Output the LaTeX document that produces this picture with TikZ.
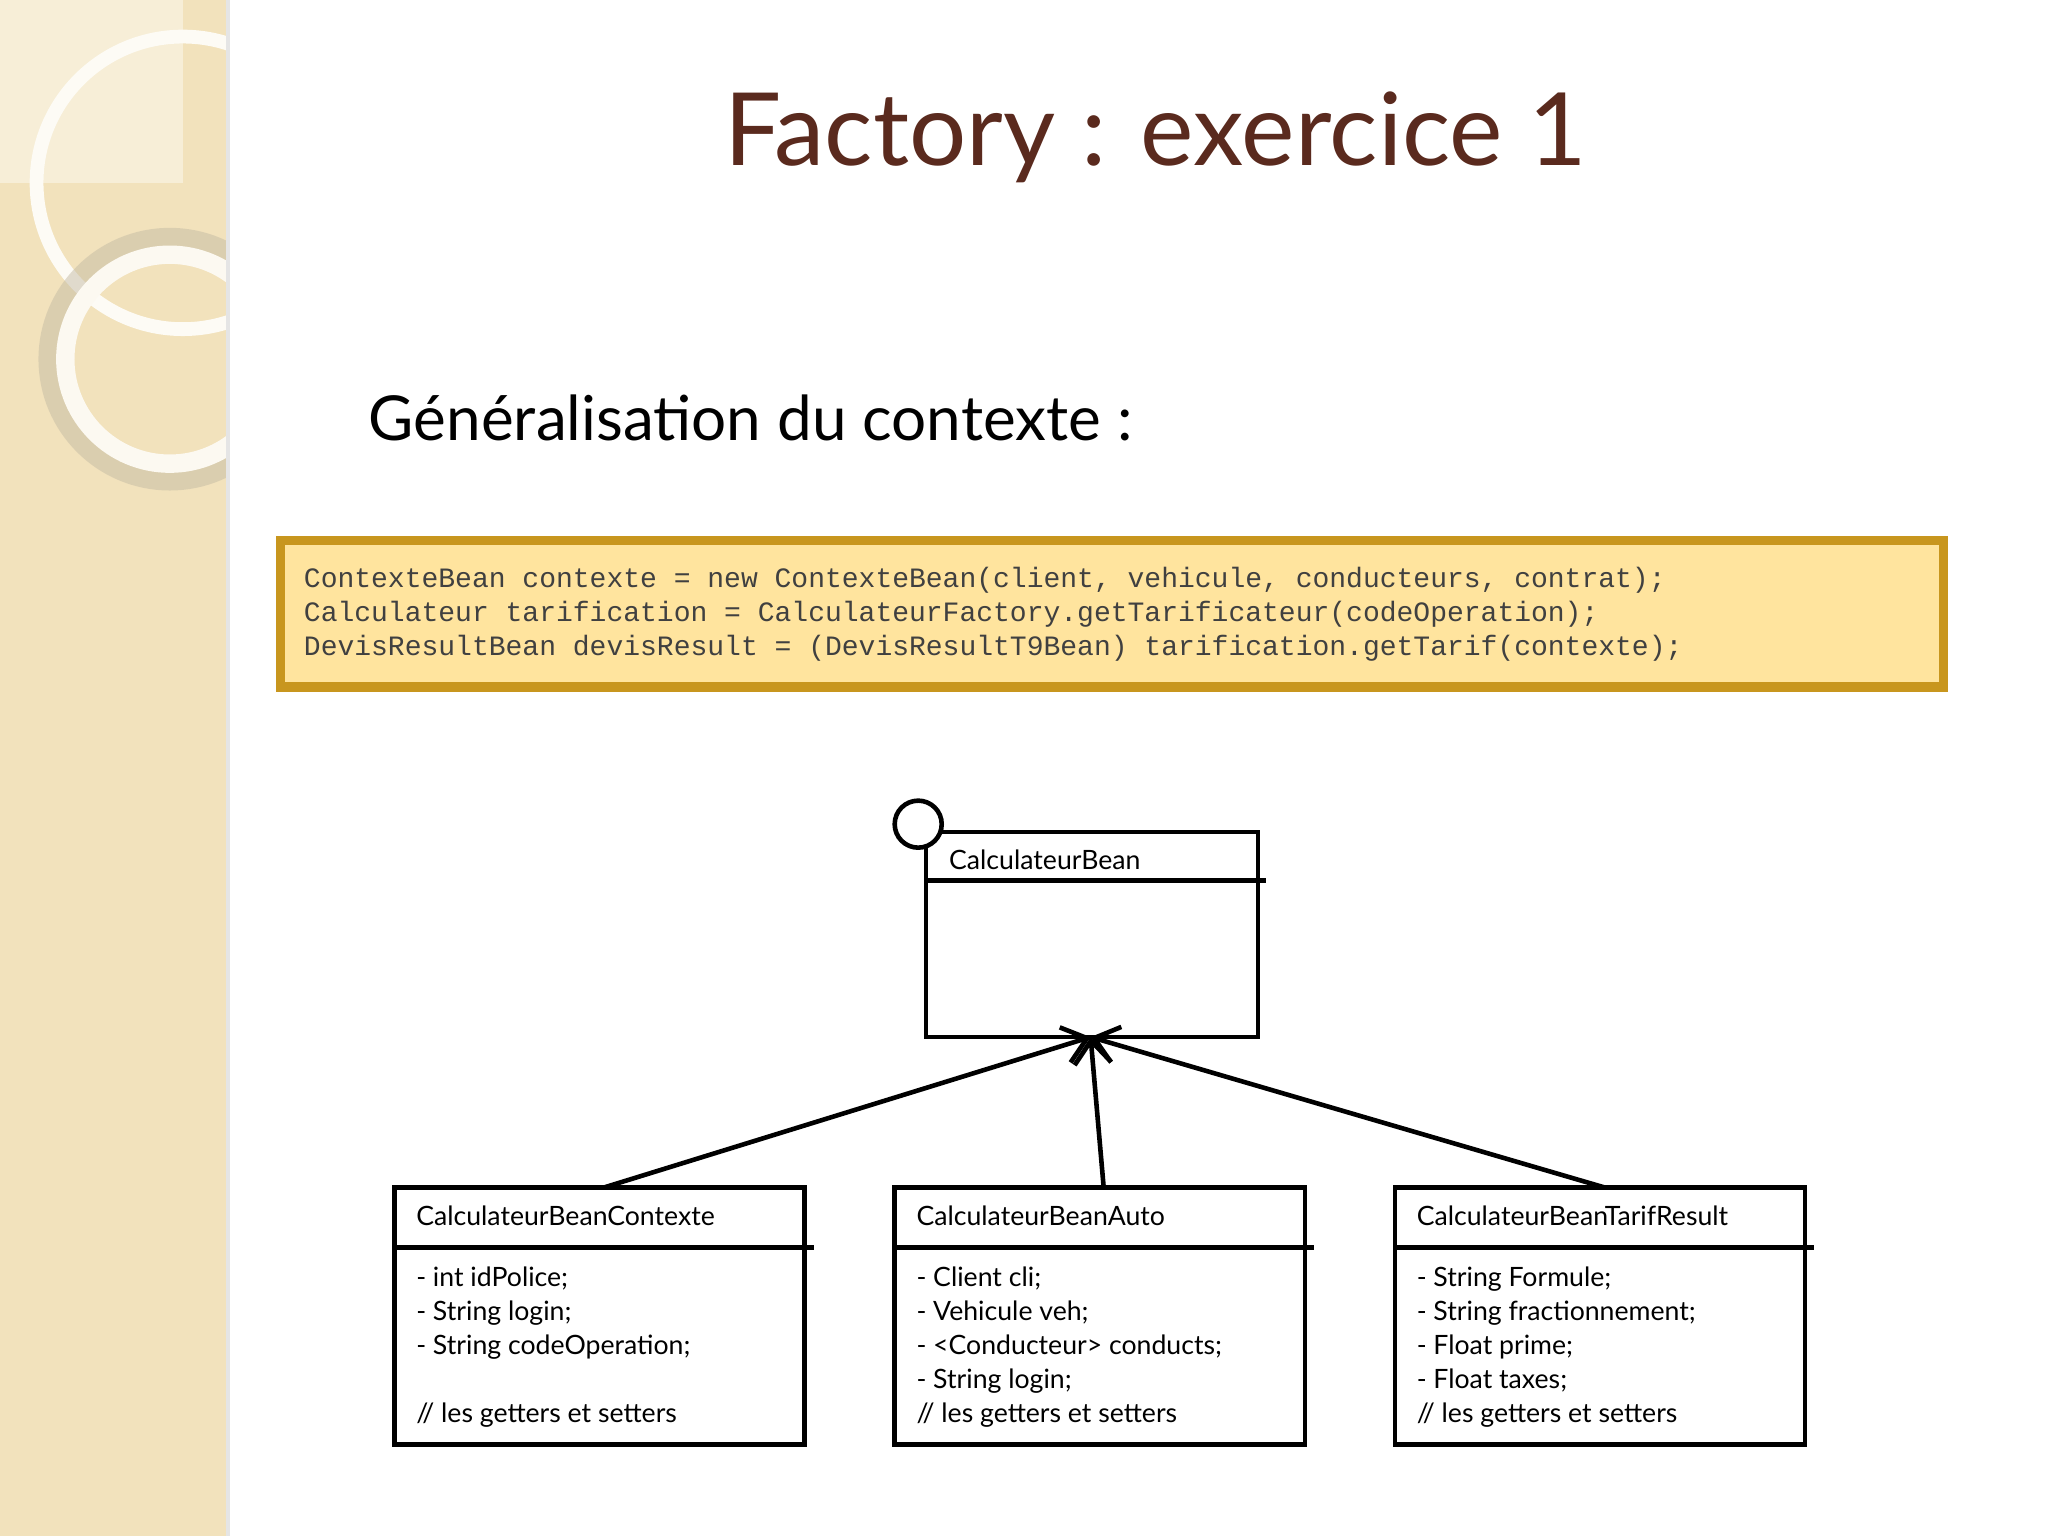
\documentclass[tikz,border=0pt]{standalone}
\usepackage{fontspec}
\setmainfont{Lato}
\setmonofont{Liberation Mono}
\usetikzlibrary{arrows.meta}
\definecolor{beige}{HTML}{F2E2BC}
\definecolor{titlec}{HTML}{5A2A1E}
\definecolor{codefill}{HTML}{FFE49E}
\definecolor{codeborder}{HTML}{C8961E}
\tikzset{
 px/.style={x=0.01cm,y=-0.01cm},
 cls/.style={draw,line width=1pt},
 txt/.style={anchor=base west,inner sep=0pt,font=\fontsize{5.8pt}{7pt}\selectfont},
 code/.style={anchor=base west,inner sep=0pt,font=\ttfamily\fontsize{6.1pt}{7pt}\selectfont,text=black!75},
 inh/.style={line width=1pt,-{Straight Barb[length=5pt,width=8pt]}}
}
\begin{document}
\begin{tikzpicture}[px]
\useasboundingbox (0,0) rectangle (1568,1176);
\fill[white] (0,0) rectangle (1568,1176);
\fill[beige] (0,0) rectangle (173,1176);
\begin{scope}
\clip (0,0) rectangle (173,1176);
\fill[beige!60!white] (0,0) rectangle (140,140);
\draw[white!85!beige,line width=3pt] (140,140) circle (112);
\draw[beige!60!gray,line width=6pt,opacity=0.5] (130,275) circle (90);
\draw[white!80!beige,line width=4pt] (130,275) circle (80);
\end{scope}
\fill[black!10] (173,0) rectangle (176,1176);
\node[text=titlec,font=\fontsize{22pt}{26pt}\selectfont] (title) at (885,105) {Factory : exercice 1};
\node[anchor=west,font=\fontsize{13.5pt}{16pt}\selectfont] (sub) at (270,320) {Généralisation du contexte :};
\draw[fill=codefill,draw=codeborder,line width=2pt] (215,414) rectangle (1488,526);
\node[code] (c1) at (232,450) {ContexteBean contexte = new ContexteBean(client, vehicule, conducteurs, contrat);};
\node[code] (c2) at (232,476) {Calculateur tarification = CalculateurFactory.getTarificateur(codeOperation);};
\node[code] (c3) at (232,502) {DevisResultBean devisResult = (DevisResultT9Bean) tarification.getTarif(contexte);};
% parent
\draw[cls] (709,637) rectangle (963,794);
\draw[line width=1pt] (709,674) -- (969,674);
\draw[line width=1pt,fill=white] (703,631) circle (18);
\node[txt] (pb) at (726,666) {CalculateurBean};
\coordinate (tip) at (835,794);
% children
\foreach \x/\nm in {302/a,685/b,1068/c}{
 \draw[cls] (\x,909) rectangle (\x+314,1106);
 \draw[line width=1pt] (\x,955) -- (\x+321,955);
}
\node[txt] at (318,938) {CalculateurBeanContexte};
\node[txt] at (318,985) {- int idPolice;};
\node[txt] at (318,1011) {- String login;};
\node[txt] at (318,1037) {- String codeOperation;};
\node[txt] at (318,1089) {// les getters et setters};
\node[txt] at (701,938) {CalculateurBeanAuto};
\node[txt] at (701,985) {- Client cli;};
\node[txt] at (701,1011) {- Vehicule veh;};
\node[txt] at (701,1037) {- <Conducteur> conducts;};
\node[txt] at (701,1063) {- String login;};
\node[txt] at (701,1089) {// les getters et setters};
\node[txt] at (1084,938) {CalculateurBeanTarifResult};
\node[txt] at (1084,985) {- String Formule;};
\node[txt] at (1084,1011) {- String fractionnement;};
\node[txt] at (1084,1037) {- Float prime;};
\node[txt] at (1084,1063) {- Float taxes;};
\node[txt] at (1084,1089) {// les getters et setters};
\coordinate (sa) at (463,909);
\coordinate (sb) at (845,909);
\coordinate (sc) at (1228,909);
\draw[inh] (sa) -- (tip);
\draw[inh] (sb) -- (tip);
\draw[inh] (sc) -- (tip);
\end{tikzpicture}
\end{document}
